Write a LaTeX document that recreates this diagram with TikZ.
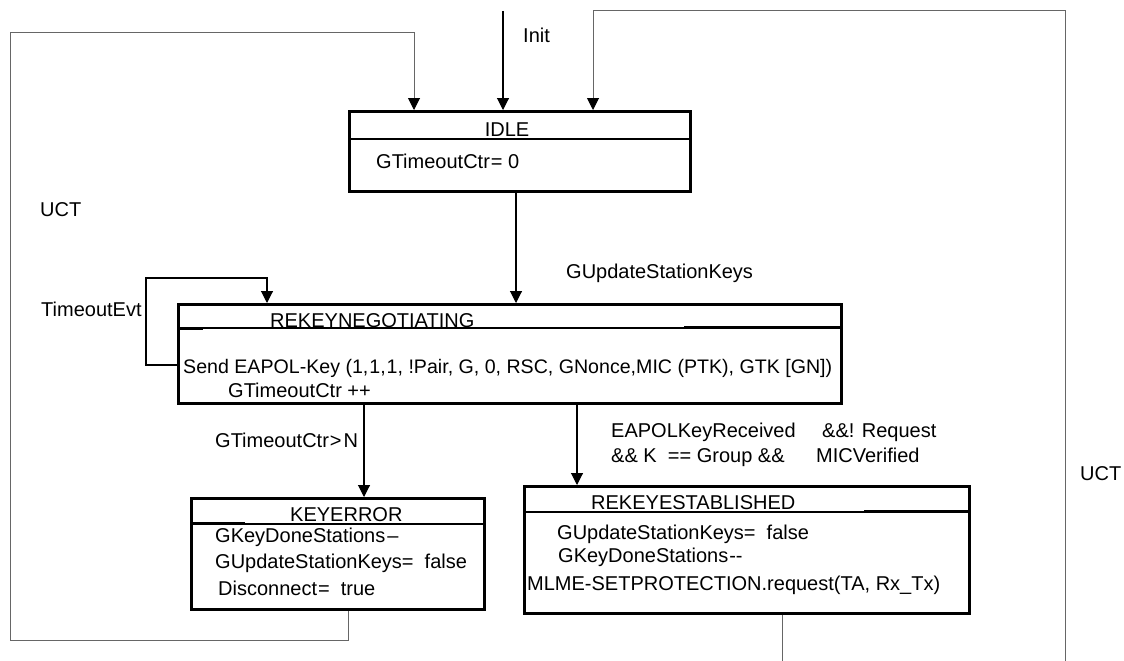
\documentclass[tikz,border=0pt]{standalone}
\usepackage{fontspec}
\setmainfont{Liberation Sans}
\usetikzlibrary{arrows.meta}
\begin{document}
\begin{tikzpicture}[x=1pt,y=-1pt,
  stbox/.style={draw, line width=2.9pt, inner sep=0pt, anchor=north west},
  divider/.style={line width=2.9pt},
  txt/.style={font=\fontsize{20}{24}\selectfont, inner sep=0pt, anchor=base west},
  ctxt/.style={font=\fontsize{20}{24}\selectfont, inner sep=0pt, anchor=base},
  arr/.style={line width=1.1pt, -{Triangle[length=12pt,width=12pt]}},
  loopline/.style={line width=1pt, draw=black!60, -{Triangle[length=12pt,width=12pt,color=black,fill=black]}},
  plainline/.style={line width=1pt, draw=black!60},
]
\useasboundingbox (0,0) rectangle (1124,661);

% ---------------- state boxes
\node[stbox, minimum width=341pt, minimum height=80pt] (idle) at (348,110) {};
\draw[divider] (348,139) -- (689,139);
\node[ctxt] (idlet) at (507,136) {IDLE};
\node[txt] (idleb) at (376,168) {GTimeoutCtr\kern1pt= 0};

\node[stbox, minimum width=663pt, minimum height=99pt] (neg) at (177,303) {};
\draw[divider] (177,328) -- (840,328);
\draw[line width=1.5pt] (177,329.5) -- (203,329.5);
\draw[line width=1.5pt] (684,327) -- (840,327);
\node[txt] (negt) at (270,327) {REKEYNEGOTIATING};
\node[txt, font=\fontsize{19.6}{24}\selectfont] (negb1) at (183,373) {Send EAPOL-Key (1,\kern1pt1,\kern1pt1, !Pair, G, 0, RSC, GNonce,MIC (PTK), GTK [GN])};
\node[txt] (negb2) at (228,397) {GTimeoutCtr ++};

\node[stbox, minimum width=293pt, minimum height=111pt] (kerr) at (190,497) {};
\draw[divider] (190,524) -- (483,524);
\draw[line width=1.5pt] (190,522.5) -- (245,522.5);
\node[txt] (kerrt) at (290,521) {KEYERROR};
\node[txt] (kerrb1) at (215,542) {GKeyDoneStations\kern2pt--};
\node[txt] (kerrb2) at (215,568) {GUpdateStationKeys= \ false};
\node[txt] (kerrb3) at (218,595) {Disconnect\kern1pt= \ true};

\node[stbox, minimum width=445pt, minimum height=127pt] (est) at (523,485) {};
\draw[divider] (523,512) -- (968,512);
\draw[line width=1.5pt] (864,510.5) -- (968,510.5);
\node[txt] (estt) at (591,509) {REKEYESTABLISHED};
\node[txt] (estb1) at (557,539) {GUpdateStationKeys= \ false};
\node[txt] (estb2) at (558,562) {GKeyDoneStations\kern1pt-{}-};
\node[txt] (estb3) at (527,590) {MLME-SETPROTECTION.request(TA, Rx\_Tx)};

% ---------------- labels
\node[txt] (linit) at (523,43) {Init};
\node[txt] (luct1) at (40,216) {UCT};
\node[txt] (ltime) at (41,316) {TimeoutEvt};
\node[txt] (lgupd) at (566,278) {GUpdateStationKeys};
\node[txt] (lgto) at (215,447) {GTimeoutCtr\kern1pt>\kern2pt N};
\node[txt] (leap1) at (611,437) {EAPOLKeyReceived};
\node[txt] (leap2) at (822,437) {\&\&! Request};
\node[txt] (leap3) at (611,462) {\&\& K \ == Group \&\&};
\node[txt] (leap4) at (816,462) {MICVerified};
\node[txt] (luct2) at (1080,480) {UCT};

% ---------------- connectors
\coordinate (initsrc) at (503,11);
\draw[arr] (initsrc) -- (initsrc |- idle.north);

\coordinate (ia) at (516,0);
\draw[arr] (ia |- idle.south) -- (ia |- neg.north);

\coordinate (t1) at (146,365);
\coordinate (t2) at (146,278);
\coordinate (t3) at (267,278);
\draw[arr] (t1 -| neg.west) -- (t1) -- (t2) -- (t3) -- (t3 |- neg.north);

\coordinate (k1) at (364,0);
\draw[arr] (k1 |- neg.south) -- (k1 |- kerr.north);

\coordinate (e1) at (577,0);
\draw[arr] (e1 |- neg.south) -- (e1 |- est.north);

\coordinate (lb) at (348,640);
\coordinate (lc) at (10,640);
\coordinate (ld) at (10,33);
\coordinate (le) at (414,33);
\draw[loopline] (lb |- kerr.south) -- (lb) -- (lc) -- (ld) -- (le) -- (le |- idle.north);

\coordinate (rb) at (782,661);
\draw[plainline] (rb |- est.south) -- (rb);
\coordinate (rc1) at (1065,661);
\coordinate (rc2) at (1065,11);
\coordinate (rc3) at (593,11);
\draw[loopline] (rc1) -- (rc2) -- (rc3) -- (rc3 |- idle.north);
\end{tikzpicture}
\end{document}
